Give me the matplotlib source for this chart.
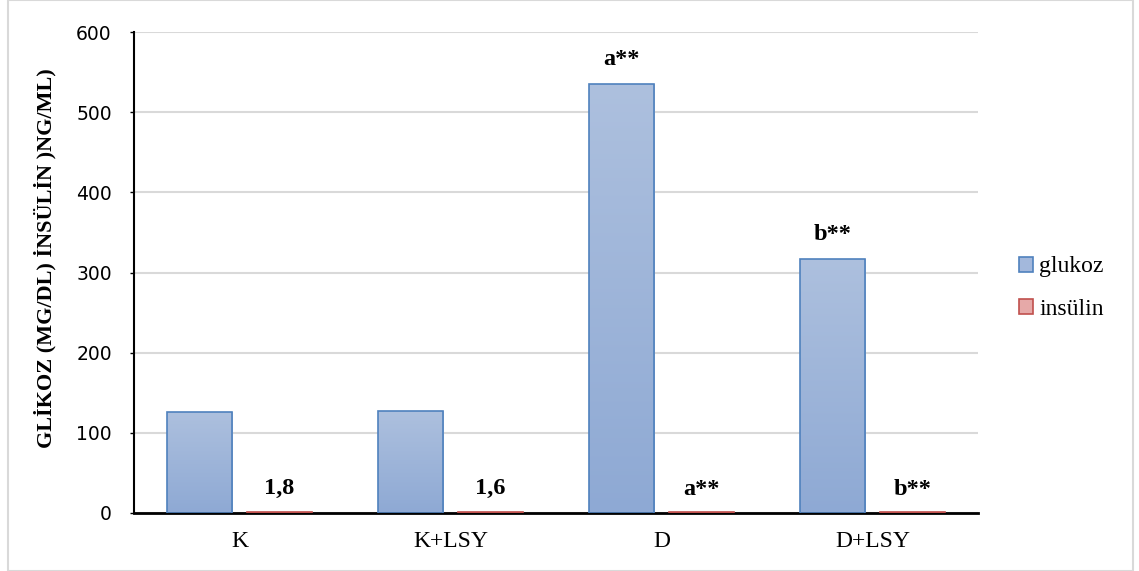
import matplotlib
matplotlib.use("Agg")
import matplotlib.pyplot as plt
import numpy as np
from matplotlib.patches import Rectangle, Patch
from matplotlib.colors import LinearSegmentedColormap

categories = ["K", "K+LSY", "D", "D+LSY"]
glukoz = [126, 127, 535, 317]
insulin = [1.8, 1.6, 0.9, 1.0]
glukoz_labels = ["", "", "a**", "b**"]
insulin_labels = ["1,8", "1,6", "a**", "b**"]
yticks = [0, 100, 200, 300, 400, 500, 600]
ylabel = "GLİKOZ (MG/DL) İNSÜLİN )NG/ML)"
series_names = ["glukoz", "insülin"]

fig = plt.figure(figsize=(11.39, 5.71), dpi=100)
ax = fig.add_axes([134/1139, 58/571, (978-134)/1139, (513-32)/571])

x = np.arange(len(categories))
w = 0.31
off = 0.19
b1 = ax.bar(x - off, glukoz, w, color="none", edgecolor="#4f81bd", linewidth=1.2, zorder=3)
b2 = ax.bar(x + off, insulin, w, color="#e6a9a8", edgecolor="#c0504d", linewidth=1.2, zorder=3)

cmap_g = LinearSegmentedColormap.from_list("g", ["#8ea9d4", "#adc0de"])
grad = np.linspace(0, 1, 256).reshape(-1, 1)
for r in b1:
    xx, yy = r.get_x(), r.get_y()
    im = ax.imshow(grad, cmap=cmap_g, aspect="auto", origin="lower",
                   extent=[xx, xx + r.get_width(), yy, yy + r.get_height()], zorder=2)
    im.set_clip_path(r)

ax.set_xlim(-0.5, 3.5)
ax.set_ylim(0, 600)
ax.set_yticks(yticks)
ax.set_xticks(x)
ax.set_xticklabels(categories, family="Liberation Serif", fontsize=17)
for lab in ax.get_yticklabels():
    lab.set_family("DejaVu Sans")
    lab.set_fontsize(13.5)
ax.tick_params(axis="x", length=0, pad=13)
ax.tick_params(axis="y", length=3, width=1, pad=13, color="black")
ax.grid(axis="y", color="#d9d9d9", linewidth=1.5, zorder=0)
ax.set_axisbelow(True)
for s in ["top", "right"]:
    ax.spines[s].set_visible(False)
ax.spines["left"].set_linewidth(1.5)
ax.spines["bottom"].set_linewidth(2)

ax.set_ylabel(ylabel, family="Liberation Serif", fontweight="bold", fontsize=16, labelpad=14)
ax.yaxis.label.set_y(0.53)

for r, t in zip(b1, glukoz_labels):
    if t:
        ax.annotate(t, (r.get_x() + r.get_width()/2, r.get_height()), xytext=(0, 10),
                    textcoords="offset points", ha="center", va="bottom",
                    family="Liberation Serif", fontweight="bold", fontsize=17.5)
for r, t in zip(b2, insulin_labels):
    ax.annotate(t, (r.get_x() + r.get_width()/2, r.get_height()), xytext=(0, 9),
                textcoords="offset points", ha="center", va="bottom",
                family="Liberation Serif", fontweight="bold", fontsize=17.5)

handles = [Patch(facecolor="#a3b8dc", edgecolor="#4f81bd", linewidth=1.2),
           Patch(facecolor="#e6a9a8", edgecolor="#c0504d", linewidth=1.2)]
fig.legend(handles, series_names, loc="center left", bbox_to_anchor=(998/1139, 1 - 288/571),
           frameon=False, prop={"family": "Liberation Serif", "size": 17},
           handlelength=0.6, handleheight=0.6, handletextpad=0.25, labelspacing=0.9)

fig.patches.append(Rectangle((8/1139, 0), 1 - 14/1139, 1, transform=fig.transFigure,
                             fill=False, edgecolor="#d9d9d9", linewidth=1.5))

fig.savefig("out.png", dpi=100)
